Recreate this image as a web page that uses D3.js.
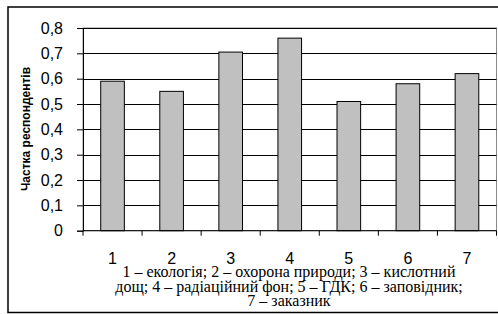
<!DOCTYPE html>
<html><head><meta charset="utf-8">
<script src="https://cdn.jsdelivr.net/npm/d3@7"></script>
<style>html,body{margin:0;padding:0;background:#fff;}svg{display:block;}
.sans{font-family:"Liberation Sans", Arial, sans-serif;}
.serif{font-family:"Liberation Serif", "Times New Roman", serif;}
</style>
</head><body>
<svg id="c" width="498" height="314"></svg>
<script>
const categories = ["1","2","3","4","5","6","7"];
const values = [0.59, 0.55, 0.705, 0.76, 0.51, 0.58, 0.62];
const yTicks = [0,0.1,0.2,0.3,0.4,0.5,0.6,0.7,0.8];
const yTitle = "Частка респондентів";
const captionLines = [
  "1 – екологія; 2 – охорона природи; 3 – кислотний",
  "дощ; 4 – радіаційний фон; 5 – ГДК; 6 – заповідник;",
  "7 – заказник"
];

const svg = d3.select("#c");
const pL = 83, pR = 496.5, pT = 28, pB = 230.7;

// outer frame
svg.append("rect").attr("x",8).attr("y",7).attr("width",500).attr("height",305.5)
  .attr("fill","none").attr("stroke","#000").attr("stroke-width",1.5);

const x = d3.scaleBand().domain(categories).range([pL,pR]).paddingInner(0.6).paddingOuter(0.3);
const xb = d3.scaleBand().domain(categories).range([pL,pR]);
const y = d3.scaleLinear().domain([0,0.8]).range([pB,pT]);

// plot area border
svg.append("rect").attr("x",pL).attr("y",pT).attr("width",pR-pL).attr("height",pB-pT)
  .attr("fill","none").attr("stroke","#8a8a8a").attr("stroke-width",1);

// gridlines
svg.append("g").selectAll("line").data(yTicks.filter(d=>d>0)).join("line")
  .attr("x1",pL).attr("x2",pR)
  .attr("y1",d=>Math.round(y(d))+0.5).attr("y2",d=>Math.round(y(d))+0.5)
  .attr("stroke","#000").attr("stroke-width",1);

// bars
svg.append("g").selectAll("rect").data(values).join("rect")
  .attr("x",(d,i)=>x(categories[i]))
  .attr("width",x.bandwidth())
  .attr("y",d=>y(d))
  .attr("height",d=>pB-y(d))
  .attr("fill","#c0c0c0").attr("stroke","#000").attr("stroke-width",1);

// y axis
const yAxis = d3.axisLeft(y).tickValues(yTicks).tickSize(6).tickPadding(14)
  .tickFormat(d=>d3.format(".1f")(d).replace(".",",").replace(/^0,0$/,"0"));
const gy = svg.append("g").attr("transform",`translate(${pL},0)`).call(yAxis);
gy.attr("font-family",null).attr("font-size",null);
gy.select(".domain").attr("stroke","#000");
gy.selectAll(".tick line").attr("stroke","#000");
gy.selectAll("text").attr("class","sans").style("font-size","16px").attr("fill","#000");

// x axis
const gx = svg.append("g").attr("transform",`translate(0,${pB})`);
gx.append("line").attr("x1",pL).attr("x2",pR).attr("stroke","#000");
gx.selectAll("line.t").data(categories.concat(["end"])).join("line").attr("class","t")
  .attr("x1",(d,i)=> i<categories.length ? xb(d) : pR)
  .attr("x2",(d,i)=> i<categories.length ? xb(d) : pR)
  .attr("y1",0).attr("y2",5).attr("stroke","#000");
gx.selectAll("text").data(categories).join("text")
  .attr("class","sans")
  .attr("x",d=>xb(d)+xb.bandwidth()/2).attr("y",33)
  .attr("text-anchor","middle")
  .style("font-size","16px").attr("fill","#000")
  .text(d=>d);

// y title
svg.append("text").attr("class","sans").attr("transform","translate(30,129) rotate(-90)")
  .attr("text-anchor","middle")
  .style("font-weight","bold").style("font-size","12px")
  .text(yTitle);

// caption
svg.append("g").selectAll("text").data(captionLines).join("text")
  .attr("class","serif")
  .attr("x",289).attr("y",(d,i)=>277+i*14.5)
  .attr("text-anchor","middle")
  .style("font-size","16px").attr("fill","#000")
  .text(d=>d);
</script>
</body></html>
